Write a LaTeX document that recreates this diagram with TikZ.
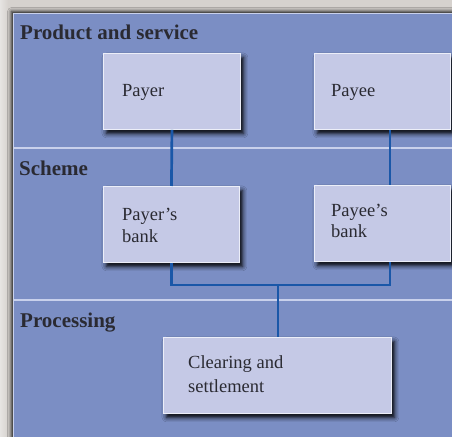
\documentclass[tikz,border=0pt]{standalone}
\usepackage{fontspec}
\setmainfont{Liberation Serif}
\usetikzlibrary{shadows.blur}
\definecolor{bggray}{HTML}{D6D2CE}
\definecolor{panelblue}{HTML}{7B8EC4}
\definecolor{boxfill}{HTML}{C5C9E6}
\definecolor{boxedge}{HTML}{ECEEF8}
\definecolor{connblue}{HTML}{1A57A8}
\definecolor{divider}{HTML}{C9D1EC}
\definecolor{inkdark}{HTML}{2A2A32}
\tikzset{
  panelstyle/.style={fill=panelblue, draw=divider, line width=0.8bp,
    blur shadow={shadow xshift=-2bp, shadow yshift=2bp, shadow blur radius=4bp, shadow opacity=95}},
  boxstyle/.style={fill=boxfill, draw=boxedge, line width=0.9bp, inner sep=0pt,
    anchor=north west,
    blur shadow={shadow xshift=3bp, shadow yshift=-4bp, shadow blur radius=4.5bp, shadow opacity=100}},
  conn/.style={draw=connblue, line width=2.7bp},
  divline/.style={draw=divider, line width=1.4bp},
  section/.style={font=\fontsize{21bp}{24bp}\selectfont\bfseries, text=inkdark, inner sep=0pt, anchor=base west},
  boxtext/.style={font=\fontsize{18.5bp}{21bp}\selectfont, text=inkdark, inner sep=0pt, anchor=base west, align=left}
}
\begin{document}
\begin{tikzpicture}[x=1bp,y=-1bp]
\useasboundingbox (0,0) rectangle (452,437);
\fill[bggray] (0,0) rectangle (452,437);
\shade[left color=bggray!60!white, right color=bggray] (0,0) rectangle (8,437);
\path[panelstyle] (13.5,13.5) rectangle (470,460);
% dividers
\draw[divline] (13.5,148) -- (452,148);
\draw[divline] (13.5,300) -- (452,300);
% section labels
\node[section] (lprod) at (20,40) {Product and service};
\node[section] (lscheme) at (19,176) {Scheme};
\node[section] (lproc) at (20,327) {Processing};
% connector anchors
\coordinate (pe) at (390,0);
\coordinate (busR) at (390,285);
\coordinate (busM) at (278,285);
% boxes
\node[boxstyle, minimum width=137bp, minimum height=76bp] (payer) at (103,53) {};
\node[boxstyle, minimum width=136bp, minimum height=76bp] (payee) at (314,53) {};
\node[boxstyle, minimum width=136bp, minimum height=76bp] (payerbank) at (103,186) {};
\node[boxstyle, minimum width=136bp, minimum height=76bp] (payeebank) at (314,185) {};
\node[boxstyle, minimum width=228bp, minimum height=76bp] (clearing) at (163,337) {};
% connectors
\draw[conn] (payer.south) -- (payerbank.north);
\draw[conn] (payee.south -| pe) -- (payeebank.north -| pe);
\draw[conn] (payerbank.south) |- (busR) -- (payeebank.south -| pe);
\draw[conn] (busM) -- (clearing.north -| busM);
% box texts (base anchor = baseline of last line)
\node[boxtext] (tpayer) at (122,97) {Payer};
\node[boxtext] (tpayee) at (331,97) {Payee};
\node[boxtext] (tpayerbank) at (122,242) {Payer’s\\bank};
\node[boxtext] (tpayeebank) at (331,237) {Payee’s\\[-1bp]bank};
\node[boxtext] (tclearing) at (188,392) {Clearing and\\[3bp]settlement};
\end{tikzpicture}
\end{document}
